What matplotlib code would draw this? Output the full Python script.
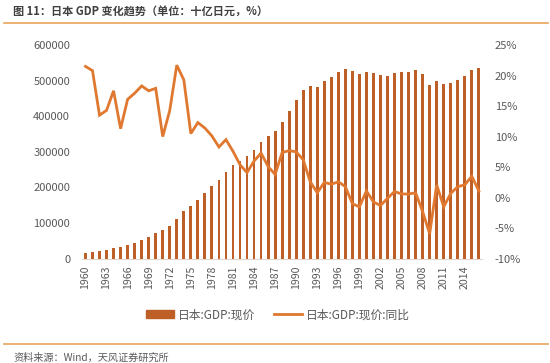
import numpy as np
import matplotlib.pyplot as plt
from matplotlib.patches import Rectangle
from matplotlib.lines import Line2D

plt.rcParams['font.family'] = ['Noto Sans CJK SC', 'DejaVu Sans']

# Data
years = list(range(1960, 2017))
gdp = [15000, 19700, 22500, 25300, 30000, 32800, 38400, 45000, 52400, 61800,
       73000, 80500, 91800, 112400, 133900, 148000, 165700, 185400, 204100, 221000,
       244400, 263100, 275300, 288400, 305200, 328700, 344600, 357600, 383000, 413900,
       445700, 473800, 486000, 481300, 500000, 511200, 523400, 532800, 527100, 518700,
       524300, 520600, 515000, 514000, 520600, 523400, 525300, 530000, 519700, 487800,
       499100, 490600, 493400, 500900, 512200, 530900, 536500]
yoy = [21.5, 20.8, 13.5, 14.3, 17.5, 11.3, 16.1, 17.1, 18.3, 17.5,
       17.9, 10.0, 14.3, 21.7, 19.3, 10.5, 12.3, 11.4, 10.1, 8.3,
       9.5, 7.6, 5.4, 4.1, 6.0, 7.3, 5.1, 3.8, 7.4, 7.7,
       7.5, 6.2, 2.6, 0.8, 2.5, 2.2, 2.6, 1.8, -1.0, -1.5,
       1.1, -0.7, -1.3, -0.1, 1.0, 0.6, 0.6, 0.8, -2.3, -5.9,
       2.1, -1.5, 0.7, 1.8, 2.1, 3.5, 1.1]

bar_color = '#BF5F28'
line_color = '#E0782F'
text_color = '#595959'
accent = '#E9A45C'

fig = plt.figure(figsize=(5.5, 3.63), dpi=100)
ax = fig.add_axes([0.149, 0.2873, 0.728, 0.5887])
ax2 = ax.twinx()

x = np.arange(len(years))
ax.bar(x, gdp, width=0.4, color=bar_color, zorder=2)
ax2.plot(x, yoy, color=line_color, linewidth=2.0, solid_joinstyle='miter', zorder=3)

ax.set_xlim(-0.5, len(years) - 0.5)
ax.set_ylim(0, 600000)
ax.set_yticks(np.arange(0, 600001, 100000))
ax2.set_ylim(-10, 25)
ax2.set_yticks(np.arange(-10, 26, 5))
ax2.set_yticklabels([f'{v}%' for v in range(-10, 26, 5)])

ticks = x[::3]
ax.set_xticks(ticks)
ax.set_xticklabels([str(years[i]) for i in ticks], rotation=90)

for a in (ax, ax2):
    for s in a.spines.values():
        s.set_visible(False)
ax.spines['bottom'].set_visible(True)
ax.spines['bottom'].set_color('#E3D6CC')
ax.spines['bottom'].set_linewidth(0.8)

ax.tick_params(axis='y', length=0, pad=8.5, labelsize=8, labelcolor=text_color)
ax2.tick_params(axis='y', length=0, pad=9, labelsize=8, labelcolor=text_color)
ax.tick_params(axis='x', length=0, pad=5, labelsize=7.6, labelcolor=text_color)

# Legend
handles = [Rectangle((0, 0), 1, 1, color=bar_color),
           Line2D([0], [0], color=line_color, linewidth=2)]
fig.legend(handles, ['日本:GDP:现价', '日本:GDP:现价:同比'],
           loc='center', bbox_to_anchor=(0.505, 0.133), ncol=2, frameon=False,
           fontsize=8.5, labelcolor=text_color, handlelength=2.4, handleheight=0.6,
           handletextpad=0.3, columnspacing=1.6)

# Title, rules and source
fig.text(0.024, 1 - 12.3 / 363, '图 11：日本 GDP 变化趋势（单位：十亿日元，%）',
         fontsize=8, fontweight='bold', color='#404040', va='center', ha='left')
fig.add_artist(Line2D([0.007, 0.997], [1 - 23 / 363] * 2, color=accent, linewidth=1.2))
fig.add_artist(Line2D([0.007, 0.997], [1 - 344.4 / 363] * 2, color=accent, linewidth=1.2))
fig.text(0.024, 1 - 357.4 / 363, '资料来源：Wind，天风证券研究所',
         fontsize=7.3, color=text_color, va='center', ha='left')

fig.savefig('out.png', dpi=100)
